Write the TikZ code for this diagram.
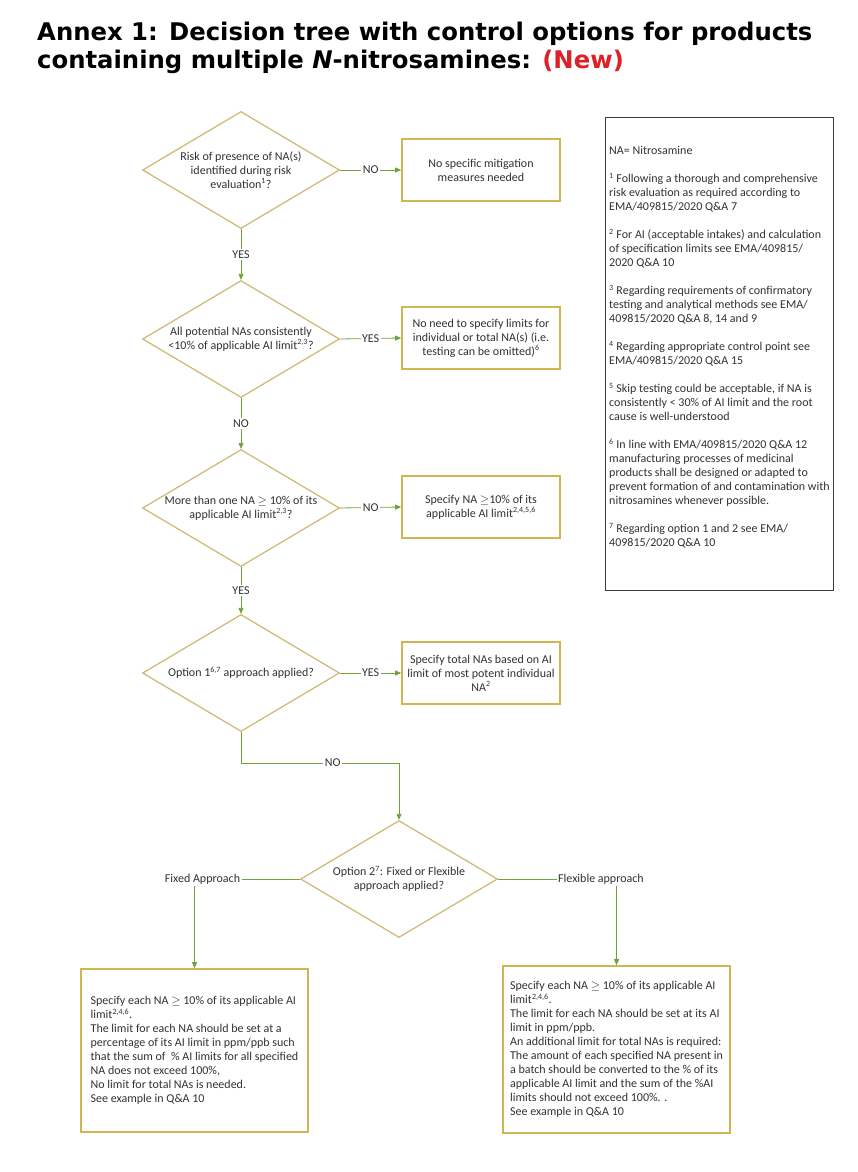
\documentclass[tikz,border=0pt]{standalone}
\usepackage{fontspec}
\setmainfont{Carlito}
\newfontfamily\titlefont{DejaVu Sans}
\usetikzlibrary{shapes.geometric,arrows.meta}
\definecolor{diacol}{RGB}{205,185,110}
\definecolor{boxcol}{RGB}{208,182,80}
\definecolor{grn}{RGB}{112,163,62}
\definecolor{txt}{RGB}{50,50,50}
\definecolor{newred}{RGB}{222,32,40}
\definecolor{legframe}{RGB}{60,60,60}
\newcommand{\gesym}{\ensuremath{\geq}}
\newcommand{\sps}[1]{\textsuperscript{#1}}
\begin{document}
\begin{tikzpicture}[x=1pt,y=-1pt,
  base/.style={font=\fontsize{12}{14}\selectfont, text=txt},
  dia/.style={diamond, draw=diacol, line width=1.2pt, minimum width=197pt, minimum height=117pt, inner sep=0pt},
  dtext/.style={base, align=center, inner sep=0pt},
  boxn/.style={rectangle, draw=boxcol, line width=1.6pt, base, align=center, minimum width=158pt, minimum height=62pt, inner sep=2pt},
  bigbox/.style={rectangle, draw=boxcol, line width=1.6pt, base, align=left, minimum width=227pt, inner sep=3pt},
  line/.style={draw=grn, line width=0.8pt},
  conn/.style={line, -{Triangle[length=6pt,width=5pt]}},
  lab/.style={base, fill=white, inner sep=1.5pt},
  titl/.style={anchor=base west, inner sep=0pt, text=black, font=\titlefont\bfseries\fontsize{24.3}{28}\selectfont},
]
\useasboundingbox (0,0) rectangle (857,1172);
\fill[white] (0,0) rectangle (857,1172);

% title
\node[titl] (t1) at (37,41) {Annex 1: Decision tree with control options for products};
\node[titl] (t2) at (37,68) {containing multiple \textit{N}-nitrosamines: \textcolor{newred}{(New)}};

% legend
\node[draw=legframe, line width=1.2pt, minimum width=228pt, minimum height=473pt, inner sep=0pt, anchor=north west] (legend) at (605,117) {};
\node[base, anchor=north west, align=left, inner sep=0pt] (legtext) at (609,146) {%
NA= Nitrosamine\\[14pt]
\sps{1} Following a thorough and comprehensive\\
risk evaluation as required according to\\
EMA/409815/2020 Q\&A 7\\[14pt]
\sps{2} For AI (acceptable intakes) and calculation\\
of specification limits see EMA/409815/\\
2020 Q\&A 10\\[14pt]
\sps{3} Regarding requirements of confirmatory\\
testing and analytical methods see EMA/\\
409815/2020 Q\&A 8, 14 and 9\\[14pt]
\sps{4} Regarding appropriate control point see\\
EMA/409815/2020 Q\&A 15\\[14pt]
\sps{5} Skip testing could be acceptable, if NA is\\
consistently < 30\% of AI limit and the root\\
cause is well-understood\\[14pt]
\sps{6} In line with EMA/409815/2020 Q\&A 12\\
manufacturing processes of medicinal\\
products shall be designed or adapted to\\
prevent formation of and contamination with\\
nitrosamines whenever possible.\\[14pt]
\sps{7} Regarding option 1 and 2 see EMA/\\
409815/2020 Q\&A 10};

% decisions
\node[dia, label={[dtext]center:{Risk of presence of NA(s)\\identified during risk\\evaluation\sps{1}?}}] (d1) at (241,170) {};
\node[dia, label={[dtext]center:{All potential NAs consistently\\<10\% of applicable AI limit\sps{2,3}?}}] (d2) at (241,339) {};
\node[dia, label={[dtext]center:{More than one NA \gesym{} 10\% of its\\applicable AI limit\sps{2,3}?}}] (d3) at (241,508) {};
\node[dia, label={[dtext]center:{Option 1\sps{6,7} approach applied?}}] (d4) at (241,673) {};
\node[dia, label={[dtext]center:{Option 2\sps{7}: Fixed or Flexible\\approach applied?}}] (d5) at (399,879) {};

% outcome boxes
\node[boxn] (b1) at (481,170) {No specific mitigation\\measures needed};
\node[boxn] (b2) at (481,338) {No need to specify limits for\\individual or total NA(s) (i.e.\\testing can be omitted)\sps{6}};
\node[boxn] (b3) at (481,507) {Specify NA \gesym10\% of its\\applicable AI limit\sps{2,4,5,6}};
\node[boxn] (b4) at (481,673) {Specify total NAs based on AI\\limit of most potent individual\\NA\sps{2}};

\node[bigbox, minimum height=163pt] (bl) at (194.5,1050.5) {Specify each NA \gesym{} 10\% of its applicable AI\\
limit\sps{2,4,6}.\\
The limit for each NA should be set at a\\
percentage of its AI limit in ppm/ppb such\\
that the sum of \ \% AI limits for all specified\\
NA does not exceed 100\%,\\
No limit for total NAs is needed.\\
See example in Q\&A 10};
\node[bigbox, minimum height=167pt] (br) at (616.5,1049.5) {Specify each NA \gesym{} 10\% of its applicable AI\\
limit\sps{2,4,6}.\\
The limit for each NA should be set at its AI\\
limit in ppm/ppb.\\
An additional limit for total NAs is required:\\
The amount of each specified NA present in\\
a batch should be converted to the \% of its\\
applicable AI limit and the sum of the \%AI\\
limits should not exceed 100\%. .\\
See example in Q\&A 10};

% branch labels
\node[lab] (fixed) at (202.5,879) {Fixed Approach};
\node[lab] (flex) at (601,879) {Flexible approach};
\coordinate (k) at (241,763);

% connectors
\draw[conn] (d1.east) -- node[lab]{NO} (b1.west);
\draw[conn] (d1.south) -- node[lab]{YES} (d2.north);
\draw[conn] (d2.east) -- node[lab]{YES} (b2.west);
\draw[conn] (d2.south) -- node[lab]{NO} (d3.north);
\draw[conn] (d3.east) -- node[lab]{NO} (b3.west);
\draw[conn] (d3.south) -- node[lab]{YES} (d4.north);
\draw[conn] (d4.east) -- node[lab]{YES} (b4.west);
\draw[conn] (d4.south) -- (k) -| node[lab,pos=0.29]{NO} (d5.north);
\draw[line] (d5.west) -- (fixed.east);
\draw[line] (d5.east) -- (flex.west);
\draw[conn] (fixed.south -| bl.north) -- (bl.north);
\draw[conn] (flex.south -| br.north) -- (br.north);
\end{tikzpicture}
\end{document}
